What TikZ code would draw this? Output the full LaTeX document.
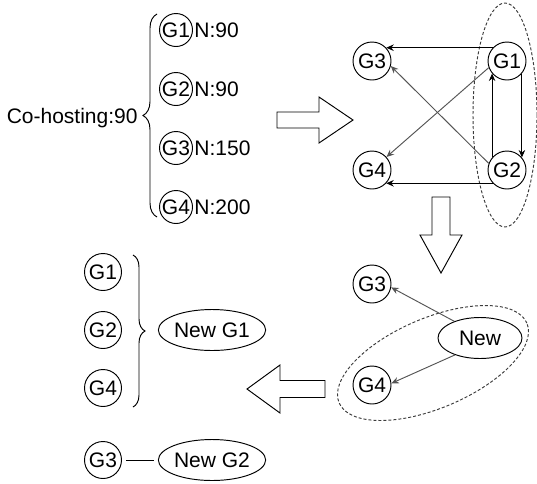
\documentclass[tikz,border=0pt]{standalone}
\usepackage{fontspec}
\setmainfont{Liberation Sans}
\usetikzlibrary{arrows.meta,decorations.pathreplacing,shapes.geometric}

\definecolor{linegray}{RGB}{85,85,85}
\definecolor{ringgray}{RGB}{60,60,60}

\tikzset{
  gnode/.style={circle, draw, inner sep=0pt, minimum size=#1},
  gnode/.default=38pt,
  bignode/.style={ellipse, draw, inner sep=0pt, minimum width=#1, minimum height=41pt},
  link/.style={-{Stealth[length=7.5pt,width=6.5pt]}},
  graylink/.style={link, draw=linegray},
  ring/.style={ellipse, draw=ringgray, dash pattern=on 3pt off 2pt},
  hollow/.style={draw, line join=miter},
  bracket/.style={decorate, decoration={brace, amplitude=#1}}
}

\begin{document}
\begin{tikzpicture}[x=1pt, y=-1pt, line width=0.95pt, font=\fontsize{21}{25}\selectfont]
  \useasboundingbox (0,0) rectangle (537,483);

  % Co-hosting group
  \node[anchor=east, inner sep=1pt] (cohost) at (139,118) {Co-hosting:90};
  \draw[bracket=14pt] (157,217) -- (157,14);
  \node[gnode=33pt] (a1) at (176,30) {G1};
  \node[gnode=33pt] (a2) at (176,89) {G2};
  \node[gnode=33pt] (a3) at (176,148) {G3};
  \node[gnode=33pt] (a4) at (176,207) {G4};
  \node[anchor=west, inner sep=1pt] (n1) at (a1.east) {N:90};
  \node[anchor=west, inner sep=1pt] (n2) at (a2.east) {N:90};
  \node[anchor=west, inner sep=1pt] (n3) at (a3.east) {N:150};
  \node[anchor=west, inner sep=1pt] (n4) at (a4.east) {N:200};

  % Hollow arrow to the right
  \draw[hollow] (277,112) -- (319,112) -- (319,97) -- (353,120)
    -- (319,143) -- (319,128) -- (277,128) -- cycle;

  % Top right graph
  \node[gnode] (b3) at (372,61) {G3};
  \node[gnode] (b1) at (507,61) {G1};
  \node[gnode] (b4) at (372,170) {G4};
  \node[gnode] (b2) at (507,170) {G2};
  \node[ring, minimum width=64pt, minimum height=224pt] (ringA) at (505,115) {};
  \draw[link] (b1.137) -- (b3.43);
  \draw[link] (b2.223) -- (b4.317);
  \draw[link] (b2.140) -- (b1.220);
  \draw[link] (b1.-40) -- (b2.40);
  \draw[graylink] (b1.200) -- (b4.42);
  \draw[graylink] (b2.160) -- (b3.-15);

  % Hollow arrow down
  \draw[hollow] (432,197) -- (450,197) -- (450,235) -- (462,235)
    -- (441,273) -- (420,235) -- (432,235) -- cycle;

  % Merged graph
  \node[gnode] (c3) at (372,284) {G3};
  \node[gnode] (c4) at (372,385) {G4};
  \node[bignode=84pt] (cnew) at (480,338) {New};
  \node[ring, rotate=23, minimum width=204pt, minimum height=90pt] (ringB) at (433,363) {};
  \draw[graylink] (cnew.147) -- (c3.-10);
  \draw[graylink] (cnew.214) -- (c4.5);

  % Hollow arrow to the left
  \draw[hollow] (325,380.5) -- (280,380.5) -- (280,365) -- (247,389)
    -- (280,413) -- (280,397.5) -- (325,397.5) -- cycle;

  % Result
  \node[gnode=37pt] (d1) at (103,272) {G1};
  \node[gnode=37pt] (d2) at (103,330) {G2};
  \node[gnode=37pt] (d4) at (103,388) {G4};
  \draw[bracket=12pt] (133,255) -- (133,407);
  \node[bignode=103pt] (dnew1) at (212,330) {New G1};
  \node[gnode=37pt] (d3) at (103,460) {G3};
  \node[bignode=103pt] (dnew2) at (212,460) {New G2};
  \draw[shorten <=4pt, shorten >=4pt] (d3) -- (dnew2);

\end{tikzpicture}
\end{document}
